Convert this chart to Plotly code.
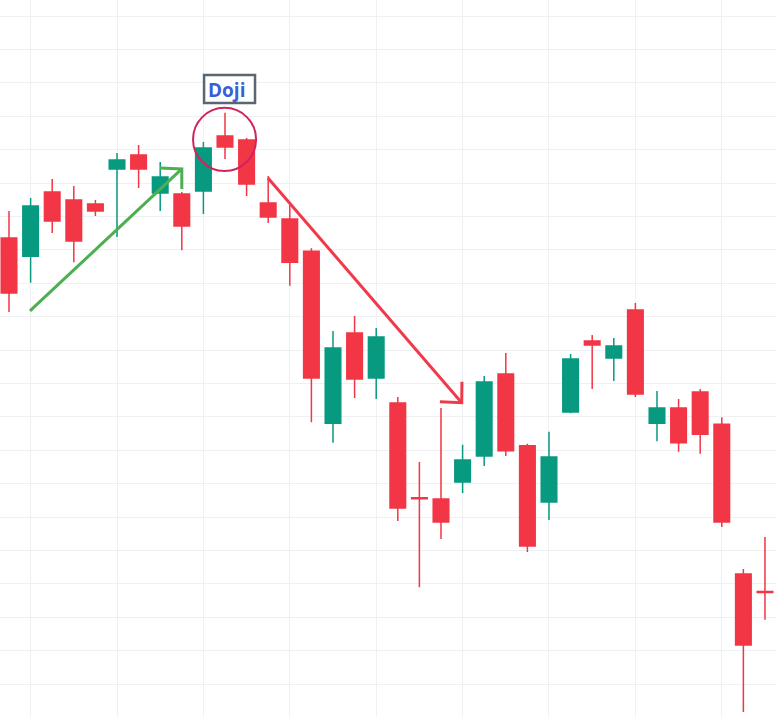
import plotly.graph_objects as go

# candle index (one per bar)
bars = list(range(36))

open_ = [153.5, 148.1, 167.3, 164.9, 163.7, 174.2, 178.4, 167.0, 166.7, 167.6,
         184.1, 182.9, 164.0, 159.2, 149.6, 98.1, 125.1, 111.6, 104.1, 75.8,
         75.4, 80.5, 88.3, 112.8, 91.3, 74.5, 101.4, 122.7, 117.6, 132.0,
         98.1, 102.6, 107.4, 97.8, 52.9, 47.7]
high = [161.6, 165.5, 171.2, 169.1, 164.9, 179.0, 181.4, 176.3, 167.3, 182.3,
        191.0, 183.5, 172.1, 163.4, 150.5, 125.7, 130.2, 126.6, 105.9, 86.5,
        102.6, 91.6, 112.2, 119.1, 91.9, 95.5, 118.8, 124.5, 123.6, 134.1,
        107.7, 105.3, 108.3, 99.9, 54.4, 64.0]
low = [131.4, 140.1, 155.0, 146.3, 160.1, 153.8, 168.5, 161.6, 149.9, 160.7,
       177.2, 166.1, 158.0, 139.2, 98.4, 92.2, 105.6, 105.3, 68.8, 49.0,
       63.4, 77.2, 85.3, 88.3, 59.5, 69.1, 101.1, 108.3, 110.7, 105.9,
       92.7, 89.5, 88.9, 67.0, 11.6, 39.2]
close = [137.1, 163.1, 158.6, 152.6, 161.6, 176.9, 174.2, 171.8, 157.1, 180.5,
         180.8, 169.7, 159.8, 146.3, 111.6, 120.6, 111.3, 123.9, 72.7, 75.5,
         68.5, 87.1, 110.4, 89.8, 61.3, 88.0, 117.3, 121.5, 121.2, 106.8,
         102.6, 92.2, 94.8, 68.5, 31.7, 47.4]

label_text = "Doji"

UP = "#089981"
DOWN = "#f23645"

fig = go.Figure()
fig.add_trace(go.Candlestick(
    x=bars, open=open_, high=high, low=low, close=close,
    increasing=dict(line=dict(color=UP, width=1.5), fillcolor=UP),
    decreasing=dict(line=dict(color=DOWN, width=1.5), fillcolor=DOWN),
    whiskerwidth=0, showlegend=False, hoverinfo="skip",
))

# Doji marker circle
fig.add_shape(type="circle", xref="x", yref="y", x0=8.52, x1=11.44, y0=173.6, y1=192.5,
              line=dict(color="#d0245c", width=2))

# Uptrend arrow (green)
fig.add_shape(type="line", x0=0.97, y0=131.7, x1=8.0, y1=174.2,
              line=dict(color="#4caf50", width=3))
fig.add_shape(type="path", path="M 6.99 174.5 L 8.0 174.2 L 8.0 168.2",
              line=dict(color="#4caf50", width=3))

# Downtrend arrow (red)
fig.add_shape(type="line", x0=11.99, y0=171.5, x1=20.96, y1=104.2,
              line=dict(color="#f03a4a", width=3))
fig.add_shape(type="path", path="M 19.95 104.5 L 20.96 104.2 L 20.97 110.5",
              line=dict(color="#f03a4a", width=3))

# Label box + text
fig.add_shape(type="rect", x0=9.03, x1=11.39, y0=193.95, y1=202.34,
              line=dict(color="#5a6670", width=2.5), fillcolor="white")
fig.add_annotation(x=10.06, y=197.9, text="<b>" + label_text + "</b>", showarrow=False,
                   font=dict(family="Open Sans", size=19, color="#3a5fd6"))

fig.update_layout(
    width=776, height=717,
    margin=dict(l=0, r=0, t=0, b=0),
    paper_bgcolor="white", plot_bgcolor="white",
    boxgap=0.28, boxgroupgap=0,
    xaxis=dict(range=[-0.417, 35.51], tick0=1, dtick=4, showticklabels=False,
               showgrid=True, gridcolor="#eff0f3", gridwidth=1, zeroline=False,
               rangeslider=dict(visible=False), showline=False, ticks=""),
    yaxis=dict(range=[10.12, 224.79], tick0=0, dtick=10, showticklabels=False,
               showgrid=True, gridcolor="#eff0f3", gridwidth=1, zeroline=False,
               showline=False, ticks=""),
)

fig.write_html("out.html", config={"displayModeBar": False},
               post_script="document.body.style.margin='0';document.body.style.overflow='hidden';")
